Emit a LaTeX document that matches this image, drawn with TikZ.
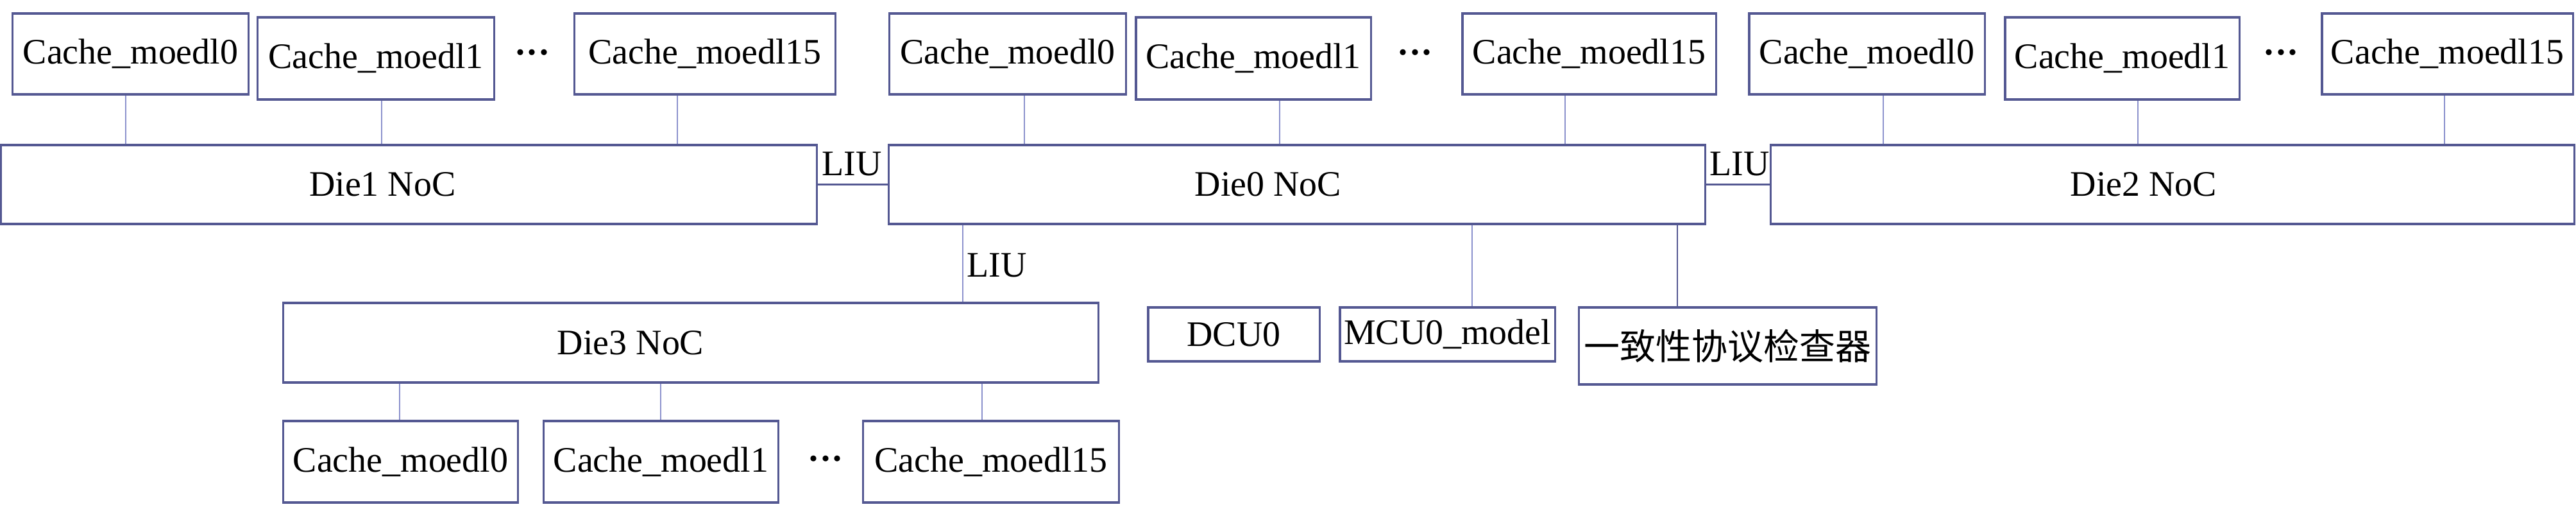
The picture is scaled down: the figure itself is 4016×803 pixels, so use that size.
\documentclass[tikz,border=0pt]{standalone}
\usepackage{fontspec}
\setmainfont{Liberation Serif}
\newfontfamily\cjk{Noto Sans CJK SC}
\usetikzlibrary{calc}
\definecolor{edgeblue}{RGB}{84,88,146}
\definecolor{wireblue}{RGB}{140,146,205}
\newcommand{\midots}{\raisebox{0.23em}{\textbf{.\kern1.2pt.\kern1.2pt.}}}
\begin{document}
\begin{tikzpicture}[x=0.01cm,y=-0.01cm,
  box/.style={draw=edgeblue, line width=0.9pt, fill=white, inner sep=0pt, font=\fontsize{15.9}{18}\selectfont},
  cbox/.style={box, minimum height=1.26cm},
  diebox/.style={box, minimum height=1.23cm},
  wire/.style={draw=wireblue, line width=0.45pt},
  link/.style={draw=edgeblue, line width=0.7pt},
  txt/.style={inner sep=0pt, font=\fontsize{15.9}{18}\selectfont}]
\useasboundingbox (0,0) rectangle (4016,803);

% ---------- Die1 ----------
\node[cbox, minimum width=3.67cm] (d1c0) at (203.5,84) {Cache\_moedl0};
\node[cbox, minimum width=3.68cm, minimum height=1.28cm] (d1c1) at (586,91) {Cache\_moedl1};
\node[txt] (d1dots) at (830,88) {\midots};
\node[cbox, minimum width=4.06cm] (d1c15) at (1099,84) {Cache\_moedl15};
\node[diebox, minimum width=12.71cm, label={[txt,xshift=-11.7pt]center:Die1 NoC}] (die1) at (637.5,287.5) {};

% ---------- Die0 ----------
\node[cbox, minimum width=3.68cm] (d0c0) at (1571,84) {Cache\_moedl0};
\node[cbox, minimum width=3.66cm, minimum height=1.28cm] (d0c1) at (1954,91) {Cache\_moedl1};
\node[txt] (d0dots) at (2206,88) {\midots};
\node[cbox, minimum width=3.95cm] (d0c15) at (2477.5,84) {Cache\_moedl15};
\node[diebox, minimum width=12.72cm, label={[txt,xshift=-12.8pt]center:Die0 NoC}] (die0) at (2022,287.5) {};

% ---------- Die2 ----------
\node[cbox, minimum width=3.67cm] (d2c0) at (2910.5,84) {Cache\_moedl0};
\node[cbox, minimum width=3.65cm, minimum height=1.28cm] (d2c1) at (3308.5,91) {Cache\_moedl1};
\node[txt] (d2dots) at (3556,88) {\midots};
\node[cbox, minimum width=3.91cm] (d2c15) at (3815.5,84) {Cache\_moedl15};
\node[diebox, minimum width=12.52cm, label={[txt,xshift=-12.8pt]center:Die2 NoC}] (die2) at (3387,287.5) {};

% ---------- Die3 ----------
\node[diebox, minimum width=12.70cm, minimum height=1.24cm, label={[txt,xshift=-26.7pt]center:Die3 NoC}] (die3) at (1077,534) {};
\node[cbox, minimum width=3.65cm, minimum height=1.27cm] (d3c0) at (624.5,719.5) {Cache\_moedl0};
\node[cbox, minimum width=3.65cm, minimum height=1.27cm] (d3c1) at (1030.5,719.5) {Cache\_moedl1};
\node[txt] (d3dots) at (1287,721) {\midots};
\node[cbox, minimum width=3.98cm, minimum height=1.27cm] (d3c15) at (1545,719.5) {Cache\_moedl15};

% ---------- Die0 peripherals ----------
\node[box, minimum width=2.67cm, minimum height=0.84cm] (dcu) at (1923.5,521) {DCU0};
\node[box, minimum width=3.35cm, minimum height=0.84cm] (mcu) at (2256.5,521) {MCU0\_model};
\node[box, minimum width=4.63cm, minimum height=1.20cm] (chk) at (2693.5,539) {\cjk 一致性协议检查器};

% ---------- LIU labels ----------
\node[txt] (liu1) at (1328,255) {LIU};
\node[txt] (liu2) at (2712,255) {LIU};
\node[txt] (liu3) at (1554,413) {LIU};

% ---------- x positions of vertical wires ----------
\path (196,0) coordinate (x10) (595,0) coordinate (x11) (1056,0) coordinate (x115)
      (1597,0) coordinate (x00) (1995,0) coordinate (x01) (2440,0) coordinate (x015)
      (2936,0) coordinate (x20) (3333,0) coordinate (x21) (3811,0) coordinate (x215)
      (623,0) coordinate (x30) (1030,0) coordinate (x31) (1531,0) coordinate (x315)
      (1501,0) coordinate (xl3) (2295,0) coordinate (xmcu) (2615,0) coordinate (xchk);

% cache wires
\draw[wire] (d1c0.south -| x10) -- (die1.north -| x10);
\draw[wire] (d1c1.south -| x11) -- (die1.north -| x11);
\draw[wire] (d1c15.south -| x115) -- (die1.north -| x115);
\draw[wire] (d0c0.south -| x00) -- (die0.north -| x00);
\draw[wire] (d0c1.south -| x01) -- (die0.north -| x01);
\draw[wire] (d0c15.south -| x015) -- (die0.north -| x015);
\draw[wire] (d2c0.south -| x20) -- (die2.north -| x20);
\draw[wire] (d2c1.south -| x21) -- (die2.north -| x21);
\draw[wire] (d2c15.south -| x215) -- (die2.north -| x215);
\draw[wire] (die3.south -| x30) -- (d3c0.north -| x30);
\draw[wire] (die3.south -| x31) -- (d3c1.north -| x31);
\draw[wire] (die3.south -| x315) -- (d3c15.north -| x315);

% die links
\draw[link] (die1.east) -- (die0.west);
\draw[link] (die0.east) -- (die2.west);
\draw[wire] (die0.south -| xl3) -- (die3.north -| xl3);

% peripherals
\draw[wire] (die0.south -| xmcu) -- (mcu.north -| xmcu);
\draw[link] (die0.south -| xchk) -- (chk.north -| xchk);
\end{tikzpicture}
\end{document}
